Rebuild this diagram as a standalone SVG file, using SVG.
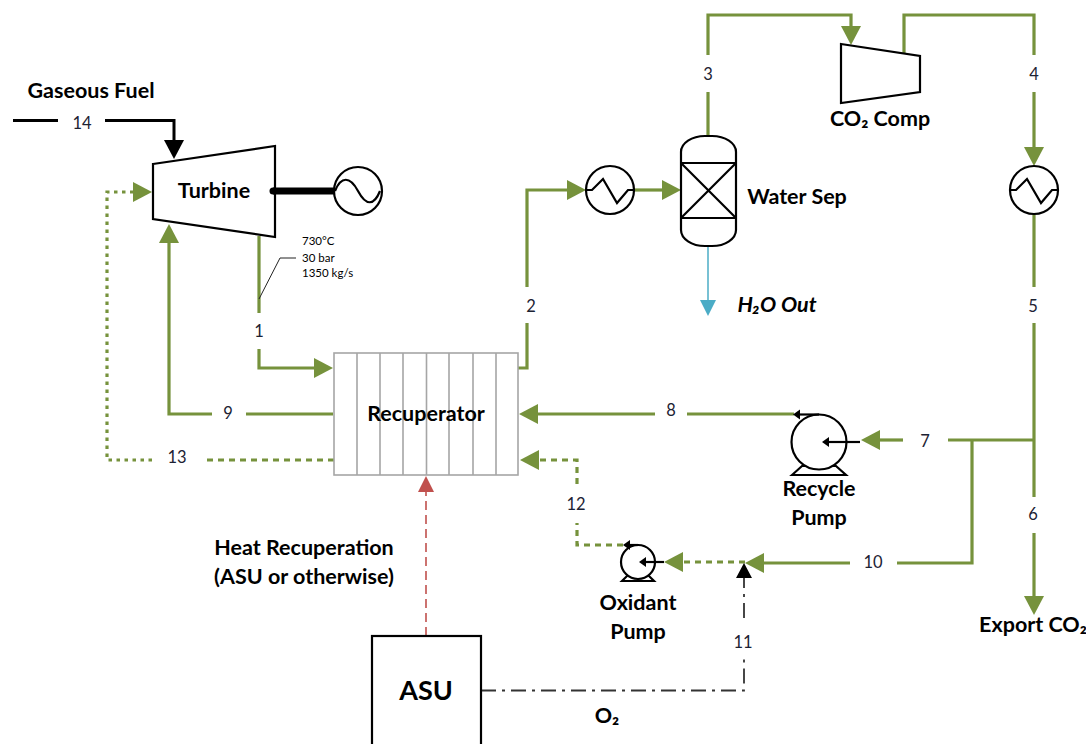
<svg xmlns="http://www.w3.org/2000/svg" width="1086" height="744" viewBox="0 0 1086 744">
<style>
text{font-family:Lato,"Noto Sans",sans-serif;fill:#000}
.b{font-weight:700;font-size:21.5px;text-anchor:middle}
.n{font-size:16.5px;text-anchor:middle;fill:#1c2233}
.s{font-size:11.5px}
.eq{fill:#fff;stroke:#000;stroke-width:2.2}
.ln{fill:none;stroke:#000;stroke-width:2.2}
.c{fill:none}
.g{stroke:#76923c;stroke-width:3.2}
.d{stroke:#76923c;stroke-width:3.2;stroke-dasharray:6 5}
.k{stroke:#000;stroke-width:3}
.rc{stroke:#a6a6a6;stroke-width:1.6;fill:none}
</style>
<defs>
<marker id="ag" markerUnits="userSpaceOnUse" markerWidth="24" markerHeight="24" refX="0" refY="11" orient="auto" overflow="visible"><path d="M0 1L19 11L0 21Z" fill="#76923c"/></marker>
<marker id="ak" markerUnits="userSpaceOnUse" markerWidth="24" markerHeight="24" refX="0" refY="11" orient="auto" overflow="visible"><path d="M0 1L19 11L0 21Z" fill="#000"/></marker>
<marker id="ak2" markerUnits="userSpaceOnUse" markerWidth="20" markerHeight="20" refX="0" refY="8" orient="auto" overflow="visible"><path d="M0 0L15 8L0 16Z" fill="#000"/></marker>
<marker id="ar" markerUnits="userSpaceOnUse" markerWidth="20" markerHeight="20" refX="0" refY="8" orient="auto" overflow="visible"><path d="M0 0L16 8L0 16Z" fill="#c0504d"/></marker>
<marker id="ab" markerUnits="userSpaceOnUse" markerWidth="20" markerHeight="20" refX="0" refY="8" orient="auto" overflow="visible"><path d="M0 0L16 8L0 16Z" fill="#4bacc6"/></marker>
<marker id="as" markerUnits="userSpaceOnUse" markerWidth="10" markerHeight="12" refX="0" refY="5" orient="auto" overflow="visible"><path d="M0 0L7 5L0 10Z" fill="#000"/></marker>
</defs>

<g id="connectors">
<path class="c k" d="M13 120.500H58"/>
<path class="c k" d="M105 120.500H174V140" marker-end="url(#ak)"/>
<path class="c g" d="M259 236V313"/>
<path class="c g" d="M259 349V368H314" marker-end="url(#ag)"/>
<path class="c g" d="M518 368H527V323"/>
<path class="c g" d="M527 287V190H567" marker-end="url(#ag)"/>
<path class="c g" d="M634 190H662" marker-end="url(#ag)"/>
<path class="c g" d="M708 136V92"/>
<path class="c g" d="M708 55V15H851V26" marker-end="url(#ag)"/>
<path class="c g" d="M904 55V15H1034V55"/>
<path class="c g" d="M1034 92V147" marker-end="url(#ag)"/>
<path class="c g" d="M1034 214V287"/>
<path class="c g" d="M1034 323V497"/>
<path class="c g" d="M1034 533V596" marker-end="url(#ag)"/>
<path class="c g" d="M1034 440H948"/>
<path class="c g" d="M903 440H880" marker-end="url(#ag)"/>
<path class="c g" d="M794 414H687"/>
<path class="c g" d="M655 414H538" marker-end="url(#ag)"/>
<path class="c g" d="M972 440V563H897"/>
<path class="c g" d="M850 563H764" marker-end="url(#ag)"/>
<path class="c d" d="M745 562H683" marker-end="url(#ag)"/>
<path class="c d" d="M623 545H577V523"/>
<path class="c d" d="M577 484V460H539" marker-end="url(#ag)"/>
<path class="c g" d="M333 414H246"/>
<path class="c g" d="M212 414H169V243" marker-end="url(#ag)"/>
<path class="c d" d="M334 460H203"/>
<path class="c d" d="M152 460H107V192H133" marker-end="url(#ag)" style="stroke-dasharray:3.5 4.5"/>
<path class="c" stroke="#4bacc6" stroke-width="1.5" d="M708 246V300" marker-end="url(#ab)"/>
<path class="c" stroke="#c0504d" stroke-width="1.6" stroke-dasharray="9 5" d="M426 636V492" marker-end="url(#ar)"/>
<path class="c" stroke="#333" stroke-width="1.8" stroke-dasharray="15 6 3 6" d="M481 690.500H744V659"/>
<path class="c" stroke="#333" stroke-width="1.8" stroke-dasharray="15 6 3 6" d="M744 618V578" marker-end="url(#ak2)"/>
<path class="c" stroke="#222" stroke-width="1" d="M259 299L280 258H296"/>
</g>

<g id="stream-labels">
<text class="n" x="82" y="129">14</text>
<text class="n" x="259" y="337">1</text>
<text class="n" x="531" y="312">2</text>
<text class="n" x="708" y="80">3</text>
<text class="n" x="1034" y="80">4</text>
<text class="n" x="1033" y="312">5</text>
<text class="n" x="1033" y="520">6</text>
<text class="n" x="925" y="447">7</text>
<text class="n" x="671" y="416">8</text>
<text class="n" x="228" y="419">9</text>
<text class="n" x="873" y="568">10</text>
<text class="n" x="743" y="648">11</text>
<text class="n" x="576" y="510">12</text>
<text class="n" x="177" y="463">13</text>
<text class="s" x="302" y="245">730°C</text>
<text class="s" x="302" y="262">30 bar</text>
<text class="s" x="302" y="277">1350 kg/s</text>
<text class="b" x="91" y="98">Gaseous Fuel</text>
<text class="b" x="304" y="555">Heat Recuperation</text>
<text class="b" x="304" y="584">(ASU or otherwise)</text>
<text class="b" x="607" y="723">O₂</text>
<text class="b" x="777" y="312" style="font-style:italic">H₂O Out</text>
<text class="b" x="1033" y="632">Export CO₂</text>
</g>

<g id="turbine">
<path class="eq" d="M153 164L275 146V237L153 219Z"/>
<text class="b" x="214" y="198">Turbine</text>
</g>
<g id="generator">
<path d="M273 191H336" fill="none" stroke="#000" stroke-width="7"/>
<circle cx="273" cy="191" r="3.500"/>
<circle class="eq" cx="358" cy="191" r="24"/>
<path class="ln" d="M335 191C341 176 350 176 358 191S374 206 380 191" stroke-width="1.800"/>
</g>
<g id="recuperator">
<rect x="334" y="353" width="184" height="122" fill="#fff" stroke="#a6a6a6" stroke-width="1.600"/>
<path class="rc" d="M357 353V475M380 353V475M403 353V475M426.500 353V475M449 353V475M473 353V475M496 353V475"/>
<text class="b" x="426" y="421">Recuperator</text>
</g>
<g id="cooler-1">
<circle class="eq" cx="610" cy="190" r="24"/>
<path class="ln" d="M586 190H592L603 179L617 203L628 190H634"/>
</g>
<g id="water-sep">
<rect class="eq" x="681" y="136" width="55" height="110" rx="24" ry="16"/>
<path class="ln" d="M681 163H736M681 218H736M681 163L736 218M736 163L681 218"/>
<text class="b" x="797" y="204">Water Sep</text>
</g>
<g id="co2-comp">
<path class="eq" d="M841 44L920 56V92L841 103Z"/>
<text class="b" x="880" y="126">CO₂ Comp</text>
</g>
<g id="cooler-2">
<circle class="eq" cx="1034" cy="190" r="24"/>
<path class="ln" d="M1010 190H1016L1027 179L1041 203L1052 190H1058"/>
</g>
<g id="recycle-pump">
<path class="ln" d="M792 475L802 466H836L846 475Z"/>
<circle class="eq" cx="819" cy="442" r="27.500"/>
<path class="ln" d="M819 414.500H800" marker-end="url(#as)"/>
<path class="ln" d="M860 442H829" marker-end="url(#as)" stroke-width="2"/>
<text class="b" x="819" y="496">Recycle</text>
<text class="b" x="819" y="525">Pump</text>
</g>
<g id="oxidant-pump">
<path class="ln" d="M622 581L628 575H648L654 581Z"/>
<circle class="eq" cx="638" cy="562" r="17"/>
<path class="ln" d="M638 545H630" marker-end="url(#as)"/>
<path class="ln" d="M664 562H646" marker-end="url(#as)" stroke-width="2"/>
<text class="b" x="638" y="610">Oxidant</text>
<text class="b" x="638" y="639">Pump</text>
</g>
<g id="asu">
<rect class="eq" x="372" y="636" width="109" height="110"/>
<text class="b" x="426" y="700" style="font-size:27px">ASU</text>
</g>
</svg>
